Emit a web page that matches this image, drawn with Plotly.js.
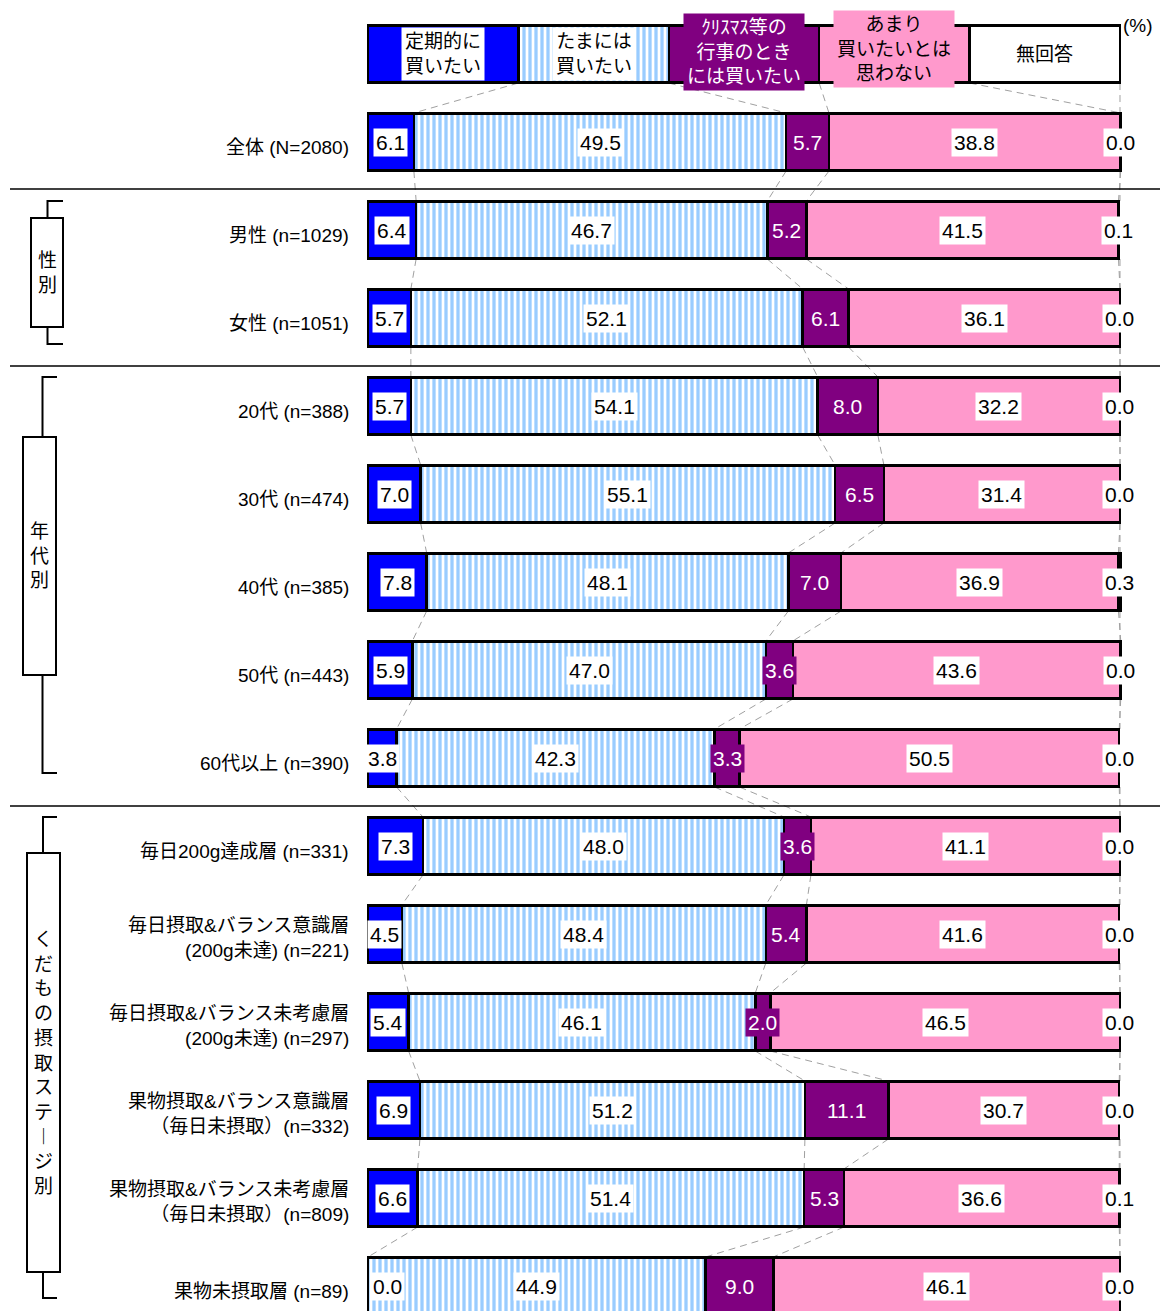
<!DOCTYPE html>
<html>
<head>
<meta charset="utf-8">
<script src="https://cdn.plot.ly/plotly-3.0.1.min.js"></script>
<style>
  html, body { margin: 0; padding: 0; background: #ffffff; }
  #chart { width: 1160px; height: 1311px; }
</style>
</head>
<body>
<div id="chart"></div>
<script>
// Row labels (top to bottom)
const categories = [
  "全体 (N=2080)",
  "男性 (n=1029)",
  "女性 (n=1051)",
  "20代 (n=388)",
  "30代 (n=474)",
  "40代 (n=385)",
  "50代 (n=443)",
  "60代以上 (n=390)",
  "毎日200g達成層 (n=331)",
  "毎日摂取&バランス意識層<br>(200g未達) (n=221)",
  "毎日摂取&バランス未考慮層<br>(200g未達) (n=297)",
  "果物摂取&バランス意識層<br>（毎日未摂取）(n=332)",
  "果物摂取&バランス未考慮層<br>（毎日未摂取）(n=809)",
  "果物未摂取層 (n=89)"
];

// Answer shares (%)
const regular   = [6.1, 6.4, 5.7, 5.7, 7.0, 7.8, 5.9, 3.8, 7.3, 4.5, 5.4, 6.9, 6.6, 0.0];
const sometimes = [49.5, 46.7, 52.1, 54.1, 55.1, 48.1, 47.0, 42.3, 48.0, 48.4, 46.1, 51.2, 51.4, 44.9];
const eventOnly = [5.7, 5.2, 6.1, 8.0, 6.5, 7.0, 3.6, 3.3, 3.6, 5.4, 2.0, 11.1, 5.3, 9.0];
const notMuch   = [38.8, 41.5, 36.1, 32.2, 31.4, 36.9, 43.6, 50.5, 41.1, 41.6, 46.5, 30.7, 36.6, 46.1];
const noAnswer  = [0.0, 0.1, 0.0, 0.0, 0.0, 0.3, 0.0, 0.0, 0.0, 0.0, 0.0, 0.0, 0.1, 0.0];

// Answer choices shown in the key bar
const answerLabels = [
  "定期的に<br>買いたい",
  "たまには<br>買いたい",
  "ｸﾘｽﾏｽ等の<br>行事のとき<br>には買いたい",
  "あまり<br>買いたいとは<br>思わない",
  "無回答"
];

// Group brackets on the left
const groupNames = ["性別", "年代別", "くだもの摂取ステ︱ジ別"];

const series = [regular, sometimes, eventOnly, notMuch, noAnswer];
const colors = ["#0000ff", "#99ccff", "#800080", "#ff99cc", "#ffffff"];

// Layout geometry
const W = 1160, H = 1311;
const ML = 365, MR = 37;
const plotW = W - ML - MR;
const xRange = [-0.4, 100.4];
const rowPx = 88, row0Px = 54;           // key row centre and row pitch
const P = px => (px - ML) / plotW;       // pixel -> paper x
const Y = py => (py - row0Px) / rowPx;   // pixel -> y value
const barW = 0.65;
const half = 0.33;

const rows = categories.map((_, i) => i + 1);
const FONT = "Liberation Sans, Arial, Noto Sans CJK JP, sans-serif";

function barTrace(x, y, k) {
  const t = {
    type: "bar", orientation: "h",
    x: x, y: y, width: barW,
    hoverinfo: "skip", showlegend: false,
    marker: { color: colors[k], line: { color: "#000000", width: 2.5 } }
  };
  if (k === 1) {
    t.marker.pattern = { shape: "|", fgcolor: "#99ccff", bgcolor: "#ffffff", size: 6, solidity: 0.55 };
  }
  return t;
}

const traces = [];
series.forEach((s, k) => traces.push(barTrace(s, rows, k)));
// key bar: five equal segments
series.forEach((s, k) => traces.push(barTrace([20], [0], k)));

// cumulative boundaries per row
const bounds = [[20, 40, 60, 80, 100]];
categories.forEach((_, i) => {
  let c = 0; const b = [];
  for (let k = 0; k < 4; k++) { c += series[k][i]; b.push(c); }
  b.push(100);
  bounds.push(b);
});

const shapes = [];
// dashed connectors between consecutive bars
for (let r = 0; r < bounds.length - 1; r++) {
  for (let k = 0; k < 5; k++) {
    shapes.push({
      type: "line", layer: "below", xref: "x", yref: "y",
      x0: bounds[r][k], y0: r + half, x1: bounds[r + 1][k], y1: r + 1 - half,
      line: { color: "#a0a0a0", width: 1, dash: "7px,5px" }
    });
  }
}
// section separators
[189, 366, 806].forEach(py => {
  shapes.push({
    type: "line", xref: "paper", yref: "y",
    x0: P(10), x1: P(1160), y0: Y(py), y1: Y(py),
    line: { color: "#000000", width: 1.5 }
  });
});

// brackets: [line x, tick end x, top, bottom, box left, box right, box top, box bottom]
const brackets = [
  [47.5, 63, 201, 344, 31, 63, 218, 327],
  [42.5, 57, 377, 773, 23, 56, 437, 675],
  [43, 57, 817, 1298, 27, 60, 853, 1272]
];
const annotations = [];
brackets.forEach((b, g) => {
  shapes.push({
    type: "path", xref: "paper", yref: "y",
    path: `M ${P(b[1])},${Y(b[2])} L ${P(b[0])},${Y(b[2])} L ${P(b[0])},${Y(b[3])} L ${P(b[1])},${Y(b[3])}`,
    line: { color: "#000000", width: 2 }
  });
  shapes.push({
    type: "rect", xref: "paper", yref: "y",
    x0: P(b[4]), x1: P(b[5]), y0: Y(b[6]), y1: Y(b[7]),
    fillcolor: "#ffffff", line: { color: "#000000", width: 2 }
  });
  annotations.push({
    xref: "paper", yref: "y",
    x: P((b[4] + b[5]) / 2), y: Y((b[6] + b[7]) / 2),
    text: Array.from(groupNames[g]).join("<br>"),
    showarrow: false, font: { family: FONT, size: 19, color: "#000000" },
    xanchor: "center", yanchor: "middle", yshift: 0
  });
});

// row labels
categories.forEach((c, i) => {
  const twoLine = c.indexOf("<br>") >= 0;
  annotations.push({
    xref: "paper", yref: "y", x: P(351), y: i + 1,
    text: c, showarrow: false, align: "right",
    xanchor: "right", yanchor: "middle", yshift: twoLine ? -4 : -5,
    font: { family: FONT, size: 19, color: "#000000" }
  });
});

// value labels
categories.forEach((_, i) => {
  let start = 0;
  series.forEach((s, k) => {
    const v = s[i];
    const purple = k === 2;
    const ann = {
      xref: "x", yref: "y", x: start + v / 2, y: i + 1,
      text: v.toFixed(1), showarrow: false,
      bgcolor: purple ? "#800080" : "#ffffff", borderpad: 2,
      font: { family: FONT, size: 21, color: purple ? "#ffffff" : "#000000" },
      xanchor: "center", yanchor: "middle"
    };
    if (k === 0 && v === 0) { ann.x = 0; ann.xanchor = "left"; ann.xshift = 2; }
    annotations.push(ann);
    start += v;
  });
});

// key labels
const keyStyles = [
  { bg: "#ffffff", fg: "#000000", ys: 0 },
  { bg: "#ffffff", fg: "#000000", ys: 0 },
  { bg: "#800080", fg: "#ffffff", ys: 2 },
  { bg: "#ff99cc", fg: "#000000", ys: 5 },
  { bg: "rgba(0,0,0,0)", fg: "#000000", ys: 0 }
];
answerLabels.forEach((t, k) => {
  annotations.push({
    xref: "x", yref: "y", x: 10 + 20 * k, y: 0,
    text: t, showarrow: false, align: "center",
    bgcolor: keyStyles[k].bg, borderpad: 3, yshift: keyStyles[k].ys,
    font: { family: FONT, size: 19, color: keyStyles[k].fg },
    xanchor: "center", yanchor: "middle"
  });
});
annotations.push({
  xref: "paper", yref: "y", x: P(1138), y: Y(25),
  text: "(%)", showarrow: false, xanchor: "center", yanchor: "middle",
  font: { family: FONT, size: 19, color: "#000000" }
});

const layout = {
  width: W, height: H,
  margin: { l: ML, r: MR, t: 0, b: 0, pad: 0 },
  paper_bgcolor: "#ffffff", plot_bgcolor: "#ffffff",
  barmode: "stack", showlegend: false,
  font: { family: FONT, color: "#000000" },
  xaxis: { range: xRange, visible: false, fixedrange: true },
  yaxis: { range: [(H - row0Px) / rowPx, -row0Px / rowPx], visible: false, fixedrange: true },
  shapes: shapes,
  annotations: annotations
};

Plotly.newPlot("chart", traces, layout, { staticPlot: true, displayModeBar: false });
</script>
</body>
</html>
